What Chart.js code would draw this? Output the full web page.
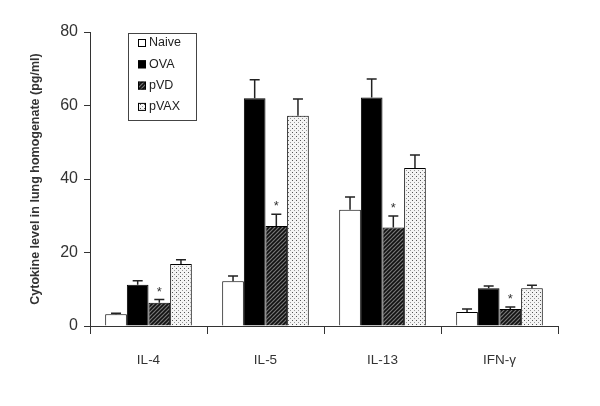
<!DOCTYPE html>
<html>
<head>
<meta charset="utf-8">
<script src="https://cdn.jsdelivr.net/npm/chart.js@4"></script>
<style>
  html, body { margin: 0; padding: 0; background: #fff; }
  #wrap { width: 600px; height: 406px; }
</style>
</head>
<body>
<div id="wrap"><canvas id="cytoChart" width="600" height="406"></canvas></div>
<script>
// Data
const categories = ['IL-4', 'IL-5', 'IL-13', 'IFN-\u03b3'];
const groups = ['Naive', 'OVA', 'pVD', 'pVAX'];
const naive = [3.2, 12.2, 31.6, 3.8];
const ova = [11.2, 62.0, 62.2, 10.3];
const pvd = [6.3, 27.2, 26.8, 4.6];
const pvax = [16.9, 57.2, 43.0, 10.3];
const naiveErr = [0.3, 1.4, 3.5, 0.8];
const ovaErr = [1.1, 5.0, 5.0, 0.6];
const pvdErr = [0.9, 3.2, 3.1, 0.6];
const pvaxErr = [1.1, 4.6, 3.5, 0.8];
const starred = [false, false, true, false]; // pVD bars carry an asterisk
const yTicks = [0, 20, 40, 60, 80];

const FONT = '"Liberation Sans", Arial, sans-serif';

// Fill patterns
function hatchPattern() {
  const c = document.createElement('canvas');
  c.width = 4; c.height = 4;
  const g = c.getContext('2d');
  g.fillStyle = '#777';
  g.fillRect(0, 0, 4, 4);
  g.strokeStyle = '#111';
  g.lineWidth = 1.6;
  g.beginPath();
  g.moveTo(-1, 5); g.lineTo(5, -1);
  g.moveTo(-1, 1); g.lineTo(1, -1);
  g.moveTo(3, 5); g.lineTo(5, 3);
  g.stroke();
  return g.createPattern(c, 'repeat');
}

function dotPattern() {
  const c = document.createElement('canvas');
  c.width = 4; c.height = 4;
  const g = c.getContext('2d');
  g.fillStyle = '#f4f4f4';
  g.fillRect(0, 0, 4, 4);
  g.fillStyle = '#555';
  g.fillRect(0, 0, 1, 1);
  g.fillStyle = '#999';
  g.fillRect(2, 2, 1, 1);
  return g.createPattern(c, 'repeat');
}

const fills = ['#ffffff', '#000000', hatchPattern(), dotPattern()];
const values = [naive, ova, pvd, pvax];
const errors = [naiveErr, ovaErr, pvdErr, pvaxErr];

// Error bars + asterisks
const errorBarPlugin = {
  id: 'errorBars',
  afterDatasetsDraw(chart) {
    const ctx = chart.ctx;
    const y = chart.scales.y;
    ctx.save();
    chart.data.datasets.forEach((ds, di) => {
      const meta = chart.getDatasetMeta(di);
      meta.data.forEach((bar, i) => {
        const top = y.getPixelForValue(values[di][i] + errors[di][i]);
        ctx.strokeStyle = '#222';
        ctx.lineWidth = 1.5;
        ctx.beginPath();
        ctx.moveTo(bar.x, bar.y);
        ctx.lineTo(bar.x, top);
        ctx.moveTo(bar.x - 5, top);
        ctx.lineTo(bar.x + 5, top);
        ctx.stroke();
        if (starred[di]) {
          ctx.fillStyle = '#333';
          ctx.font = '13px ' + FONT;
          ctx.textAlign = 'center';
          ctx.textBaseline = 'bottom';
          ctx.fillText('*', bar.x, top - 1);
        }
      });
    });
    ctx.restore();
  }
};

// Boxed legend inside the plot
const boxLegendPlugin = {
  id: 'boxLegend',
  afterDraw(chart) {
    const ctx = chart.ctx;
    ctx.save();
    ctx.strokeStyle = '#444';
    ctx.lineWidth = 1;
    ctx.strokeRect(128.5, 33.5, 68, 87);
    ctx.font = '12.5px ' + FONT;
    ctx.textBaseline = 'middle';
    ctx.textAlign = 'left';
    groups.forEach((name, i) => {
      const cy = 43 + i * 21.3;
      ctx.fillStyle = fills[i];
      ctx.fillRect(138, cy - 4, 8, 8);
      ctx.strokeStyle = '#000';
      ctx.strokeRect(138.5, cy - 3.5, 7, 7);
      ctx.fillStyle = '#222';
      ctx.fillText(name, 149, cy);
    });
    ctx.restore();
  }
};

const ctx = document.getElementById('cytoChart').getContext('2d');
new Chart(ctx, {
  type: 'bar',
  data: {
    labels: categories,
    datasets: groups.map((name, i) => ({
      label: name,
      data: values[i],
      backgroundColor: fills[i],
      borderColor: '#000',
      borderWidth: 1,
      categoryPercentage: 0.74,
      barPercentage: 1.0
    }))
  },
  options: {
    responsive: false,
    animation: false,
    layout: { padding: { top: 32, right: 42, left: 0, bottom: 0 } },
    plugins: {
      legend: { display: false },
      tooltip: { enabled: false }
    },
    scales: {
      x: {
        afterFit: s => { s.height = 80; },
        border: { display: true, color: '#333', width: 1 },
        grid: {
          display: true,
          offset: true,
          drawOnChartArea: false,
          drawTicks: true,
          tickLength: 8,
          color: '#333'
        },
        ticks: {
          color: '#333',
          padding: 18,
          font: { family: FONT, size: 13.5 }
        }
      },
      y: {
        min: 0,
        max: 80,
        afterFit: s => { s.width = 90; },
        afterBuildTicks: s => { s.ticks = yTicks.map(v => ({ value: v })); },
        border: { display: true, color: '#333', width: 1 },
        grid: {
          display: true,
          drawOnChartArea: false,
          drawTicks: true,
          tickLength: 6,
          color: '#333'
        },
        ticks: {
          color: '#333',
          padding: 6,
          font: { family: FONT, size: 16 }
        },
        title: {
          display: true,
          text: 'Cytokine level in lung homogenate (pg/ml)',
          color: '#333',
          padding: { top: 28, bottom: 0 },
          font: { family: FONT, size: 12.5, weight: 'bold' }
        }
      }
    }
  },
  plugins: [errorBarPlugin, boxLegendPlugin]
});
</script>
</body>
</html>
